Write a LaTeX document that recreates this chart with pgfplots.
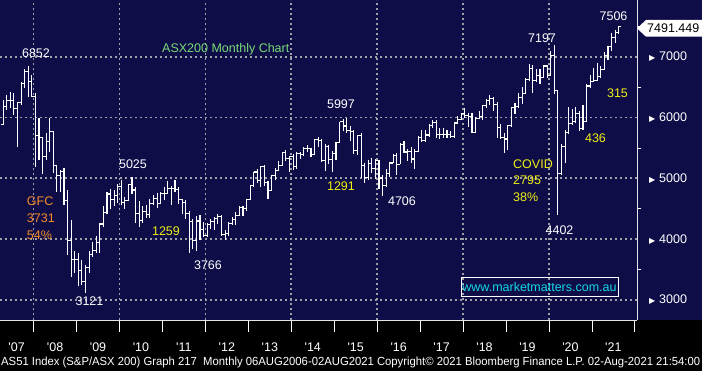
\documentclass[border=0pt]{standalone}
\usepackage{fontspec}
\setmainfont{Liberation Sans}
\newfontfamily\symfont{DejaVu Sans}
\usepackage{graphicx}
\usepackage{pgfplots}
\usepackage{pgfplotstable}
\pgfplotsset{compat=1.18}
\definecolor{bgnavy}{RGB}{14,13,72}
\definecolor{gridgray}{RGB}{160,160,168}
\definecolor{annyellow}{RGB}{240,240,20}
\definecolor{annorange}{RGB}{245,140,40}
\definecolor{anngreen}{RGB}{120,220,120}
\definecolor{anncyan}{RGB}{20,215,230}
\newcommand\fs{\fontsize{12.5}{14}\selectfont}
\newcommand\yr[1]{\textquotesingle#1}
\pgfdeclareplotmark{openL}{\pgfpathmoveto{\pgfqpoint{-2pt}{0pt}}\pgfpathlineto{\pgfqpoint{0pt}{0pt}}\pgfusepathqstroke}
\pgfdeclareplotmark{closeR}{\pgfpathmoveto{\pgfqpoint{0pt}{0pt}}\pgfpathlineto{\pgfqpoint{2pt}{0pt}}\pgfusepathqstroke}

\pgfplotstableread{
x o h l c
-9.5 5640 5990 5630 5880
-8.5 5880 6290 5870 6180
-7.5 6180 6370 6120 6275
-6.5 6275 6420 6160 6274
-5.5 6274 6400 6040 6150
-4.5 6150 6260 5520 6240
-3.5 6240 6590 6200 6560
-2.5 6560 6790 6480 6750
-1.5 6750 6852 6330 6590
-0.5 6590 6700 6340 6340
0.5 6340 6400 5190 5697
1.5 5697 5990 5300 5673
2.5 5673 5680 5077 5355
3.5 5355 5750 5300 5599
4.5 5599 5990 5430 5774
5.5 5774 5780 5090 5215
6.5 5215 5220 4780 5052
7.5 5052 5140 4780 5116
8.5 5116 5170 4560 4631
9.5 4631 4810 3740 3983
10.5 3983 4320 3380 3672
11.5 3672 3800 3450 3659
12.5 3659 3770 3230 3478
13.5 3478 3660 3240 3297
14.5 3297 3580 3121 3532
15.5 3532 3800 3450 3744
16.5 3744 3950 3700 3813
17.5 3813 4050 3780 3948
18.5 3948 4270 3770 4249
19.5 4249 4550 4200 4439
20.5 4439 4770 4410 4742
21.5 4742 4830 4500 4646
22.5 4646 4800 4550 4715
23.5 4715 4900 4600 4870
24.5 4870 4970 4560 4596
25.5 4596 4700 4490 4632
26.5 4632 4900 4620 4893
27.5 4893 5025 4750 4808
28.5 4808 4850 4270 4417
29.5 4417 4620 4200 4301
30.5 4301 4540 4260 4448
31.5 4448 4560 4350 4400
32.5 4400 4660 4350 4582
33.5 4582 4730 4560 4675
34.5 4675 4760 4510 4584
35.5 4584 4780 4580 4745
36.5 4745 4860 4640 4753
37.5 4753 4950 4740 4838
38.5 4838 4880 4560 4828
39.5 4828 4974 4780 4823
40.5 4823 4850 4580 4654
41.5 4654 4660 4420 4608
42.5 4608 4650 4330 4425
43.5 4425 4460 3766 4297
44.5 4297 4330 3840 3985
45.5 3985 4380 3800 4298
46.5 4298 4390 3990 4166
47.5 4166 4290 4030 4057
48.5 4057 4270 4040 4234
49.5 4234 4330 4170 4297
50.5 4297 4370 4150 4335
51.5 4335 4420 4250 4378
52.5 4378 4400 4060 4077
53.5 4077 4150 3985 4095
54.5 4095 4290 4060 4263
55.5 4263 4370 4230 4317
56.5 4317 4440 4230 4387
57.5 4387 4540 4380 4517
58.5 4517 4540 4380 4506
59.5 4506 4660 4470 4649
60.5 4649 4890 4640 4879
61.5 4879 5110 4860 5104
62.5 5104 5150 4920 4967
63.5 4967 5200 4850 5191
64.5 5191 5220 4870 4926
65.5 4926 4960 4660 4803
66.5 4803 5060 4800 5052
67.5 5052 5170 4970 5135
68.5 5135 5290 5120 5218
69.5 5218 5430 5200 5425
70.5 5425 5460 5290 5320
71.5 5320 5360 5110 5352
72.5 5352 5400 5140 5190
73.5 5190 5440 5160 5405
74.5 5405 5440 5320 5394
75.5 5394 5520 5370 5489
76.5 5489 5540 5440 5492
77.5 5492 5500 5350 5396
78.5 5396 5640 5390 5633
79.5 5633 5680 5520 5625
80.5 5625 5640 5280 5292
81.5 5292 5560 5120 5526
82.5 5526 5550 5240 5313
83.5 5313 5450 5100 5411
84.5 5411 5600 5300 5588
85.5 5588 5930 5580 5929
86.5 5929 5980 5780 5861
87.5 5861 5997 5750 5790
88.5 5790 5860 5610 5777
89.5 5777 5790 5400 5459
90.5 5459 5720 5380 5699
91.5 5699 5750 5000 5207
92.5 5207 5260 4920 5021
93.5 5021 5300 4970 5239
94.5 5239 5330 5090 5166
95.5 5166 5320 4990 5296
96.5 5296 5300 4830 5005
97.5 5005 5050 4706 4881
98.5 4881 5160 4860 5082
99.5 5082 5270 5030 5252
100.5 5252 5400 5250 5378
101.5 5378 5410 5050 5233
102.5 5233 5580 5230 5562
103.5 5562 5610 5410 5433
104.5 5433 5480 5280 5436
105.5 5436 5510 5250 5318
106.5 5318 5490 5150 5440
107.5 5440 5690 5430 5665
108.5 5665 5790 5600 5621
109.5 5621 5800 5600 5712
110.5 5712 5900 5680 5864
111.5 5864 5960 5820 5924
112.5 5924 5960 5670 5724
113.5 5724 5830 5650 5721
114.5 5721 5820 5660 5720
115.5 5720 5790 5660 5715
116.5 5715 5780 5660 5682
117.5 5682 5920 5670 5909
118.5 5909 6030 5890 5969
119.5 5969 6080 5960 6065
120.5 6065 6150 6000 6037
121.5 6037 6080 5850 6016
122.5 6016 6070 5740 5759
123.5 5759 6010 5740 5983
124.5 5983 6100 5970 6011
125.5 6011 6210 5960 6195
126.5 6195 6300 6160 6280
127.5 6280 6370 6210 6319
128.5 6319 6340 6110 6208
129.5 6208 6250 5660 5830
130.5 5830 5900 5650 5667
131.5 5667 5740 5410 5646
132.5 5646 5880 5460 5865
133.5 5865 6180 5850 6169
134.5 6169 6240 6060 6181
135.5 6181 6400 6160 6326
136.5 6326 6500 6230 6397
137.5 6397 6650 6390 6619
138.5 6619 6880 6600 6813
139.5 6813 6870 6400 6604
140.5 6604 6800 6580 6688
141.5 6688 6800 6550 6663
142.5 6663 6870 6650 6846
143.5 6846 6870 6650 6684
144.5 6684 7090 6680 7017
145.5 7017 7197 6390 6441
146.5 6441 6460 4402 5077
147.5 5077 5560 5050 5522
148.5 5522 5800 5250 5756
149.5 5756 6170 5730 5898
150.5 5898 6140 5880 5928
151.5 5928 6170 5910 6061
152.5 6061 6100 5780 5816
153.5 5816 6200 5800 5928
154.5 5928 6550 5920 6518
155.5 6518 6700 6490 6587
156.5 6587 6820 6580 6607
157.5 6607 6900 6600 6673
158.5 6673 6850 6650 6791
159.5 6791 7080 6780 7025
160.5 7025 7180 6950 7162
161.5 7162 7390 7100 7313
162.5 7313 7440 7220 7393
163.5 7393 7506 7380 7491
}\ohlc

\begin{document}
\begin{tikzpicture}
\fill[black] (0pt,0pt) rectangle (702pt,51pt);
\fill[bgnavy] (0pt,51pt) rectangle (702pt,371pt);
\begin{axis}[
  at={(0pt,51pt)}, anchor=south west,
  scale only axis, width=637pt, height=320pt,
  xmin=-9.39, xmax=168.6, ymin=2671, ymax=7932,
  axis line style={draw=none},
  tick align=outside,
  xtick pos=bottom, ytick pos=right, yticklabel pos=right,
  xtick={0,12,...,168}, xticklabel=\empty,
  minor xtick={0,24,...,144},
  xminorgrids=true, xmajorgrids=false,
  ytick={3000,4000,...,7000}, minor ytick={3500,4500,5500,6500,7500},
  ymajorgrids=true, yminorgrids=false,
  major tick length=12pt, minor tick length=4pt,
  every tick/.style={white, line width=0.8pt},
  every major y tick/.style={draw=none},
  grid style={gridgray, line width=1.7pt, dash pattern=on 1.7pt off 3.3pt},
  extra x ticks={-4.75,6,18,...,162},
  extra x tick labels={\yr{07},\yr{08},\yr{09},\yr{10},\yr{11},\yr{12},\yr{13},\yr{14},\yr{15},\yr{16},\yr{17},\yr{18},\yr{19},\yr{20},\yr{21}},
  extra x tick style={major tick length=0pt, grid=none, xticklabel style={anchor=center, yshift=-27pt}},
  xticklabel style={font=\fs, white, inner sep=0pt},
  yticklabel style={font=\fs, white, anchor=west, inner sep=0pt},
  yticklabel={\makebox[10pt][l]{\symfont\fontsize{8}{8}\selectfont ▶}\pgfmathprintnumber{\tick}},
  /pgf/number format/assume math mode=true,
  /pgf/number format/1000 sep={},
]
\addplot[draw=none, forget plot, error bars/.cd, y dir=both, y explicit, error mark=none,
  error bar style={draw=white, line width=1.1pt, solid}]
  table[x=x, y=c, y error plus expr=\thisrow{h}-\thisrow{c}, y error minus expr=\thisrow{c}-\thisrow{l}] {\ohlc};
\addplot[only marks, mark=openL, mark options={white, line width=1.1pt, solid}] table[x=x, y=o] {\ohlc};
\addplot[only marks, mark=closeR, mark options={white, line width=1.1pt, solid}] table[x=x, y=c] {\ohlc};
\end{axis}
\draw[white!80!gray, line width=1pt] (637pt,51pt) -- (637pt,371pt);
\draw[white!80!gray, line width=0.8pt] (0pt,51pt) -- (637pt,51pt);
% annotations
\begin{scope}[every node/.style={font=\fs, inner sep=0pt}]
\node[white] at (36pt,318pt) {6852};
\node[annorange, anchor=west] at (26.7pt,169.3pt) {GFC};
\node[annorange, anchor=west] at (26.7pt,152.7pt) {3731};
\node[annorange, anchor=west] at (26.7pt,136pt) {54\%};
\node[white] at (89.5pt,69.3pt) {3121};
\node[white] at (133pt,207pt) {5025};
\node[annyellow] at (166pt,139.3pt) {1259};
\node[anngreen, anchor=base west] at (162pt,318.2pt) {ASX200 Monthly Chart};
\node[white] at (208pt,106pt) {3766};
\node[white] at (341pt,267pt) {5997};
\node[annyellow] at (341pt,184.3pt) {1291};
\node[white] at (402pt,169.3pt) {4706};
\node[annyellow, anchor=west] at (513pt,207pt) {COVID};
\node[annyellow, anchor=west] at (513pt,191pt) {2795};
\node[annyellow, anchor=west] at (513pt,174pt) {38\%};
\node[white] at (542pt,332.7pt) {7197};
\node[white] at (559.5pt,141pt) {4402};
\node[white] at (613.5pt,355pt) {7506};
\node[annyellow] at (617.5pt,277.7pt) {315};
\node[annyellow] at (595.5pt,232.7pt) {436};
\node[draw=white, line width=1pt, minimum width=157pt, minimum height=19pt, text=anncyan] at (539.5pt,83.5pt) {www.marketmatters.com.au};
\fill[white] (637pt,342.65pt) -- (646pt,351pt) -- (702pt,351pt) -- (702pt,334.3pt) -- (646pt,334.3pt) -- cycle;
\node[black, anchor=west] at (647pt,342.65pt) {7491.449};
\node[white, anchor=base west] at (1pt,5pt) {\resizebox{699pt}{8.5pt}{AS51 Index (S\&P/ASX 200) Graph 217\ \ Monthly 06AUG2006-02AUG2021 Copyright© 2021 Bloomberg Finance L.P. 02-Aug-2021 21:54:00}};
\end{scope}
\pgfresetboundingbox
\useasboundingbox (0pt,0pt) rectangle (702pt,371pt);
\end{tikzpicture}
\end{document}
